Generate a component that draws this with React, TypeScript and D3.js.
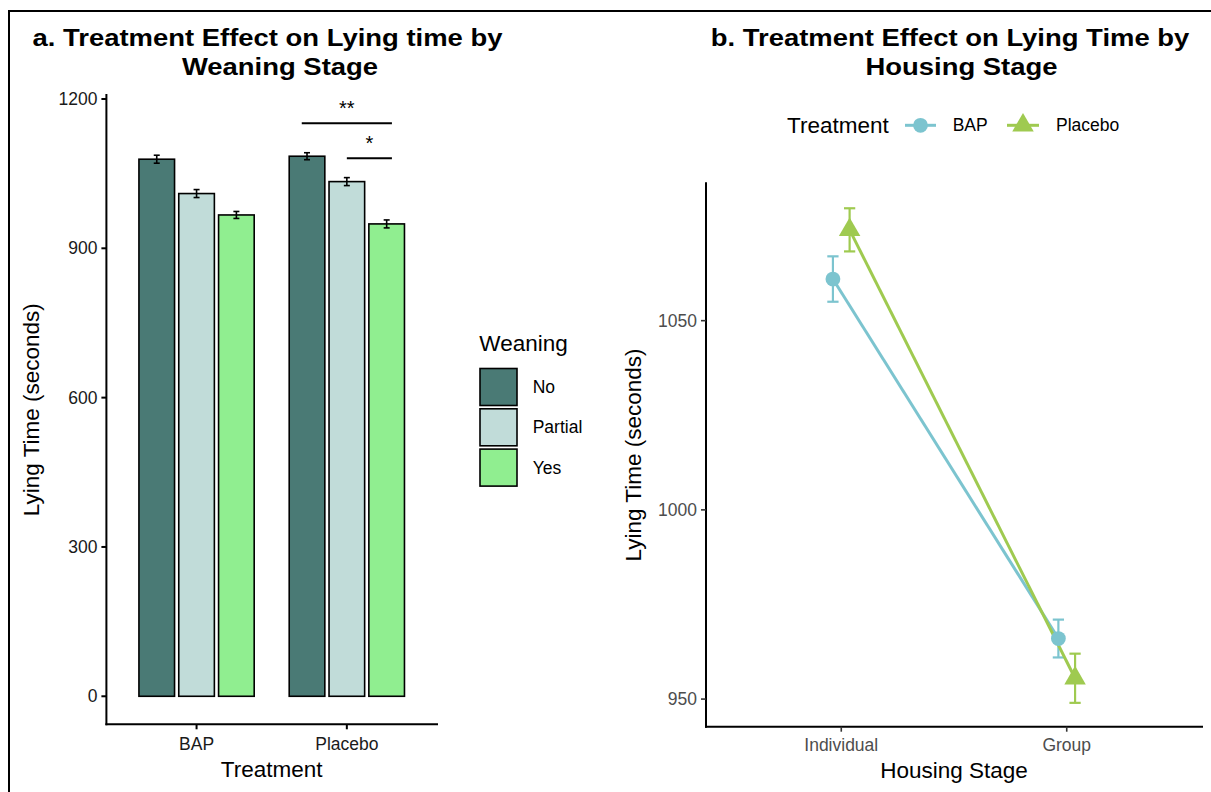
import React from 'react';
import * as d3 from 'd3';

// Panel a: lying time by treatment and weaning stage
const treatments = ['BAP', 'Placebo'];
const weaningLevels = ['No', 'Partial', 'Yes'];
const weaningColors = ['#4a7a75', '#c1dcd9', '#90ee90'];
const lyingBAP = [1079, 1010, 967];
const lyingPlacebo = [1085, 1034, 949];
const seBAP = [8, 8, 7];
const sePlacebo = [7, 8, 8];
const ticksA = [0, 300, 600, 900, 1200];
// significance brackets (x in treatment index units, y in seconds)
const sigLabels = ['**', '*'];
const sigFrom = [1.7, 2.0];
const sigTo = [2.3, 2.3];
const sigY = [1151, 1081];

// Panel b: lying time by housing stage and treatment
const housingStages = ['Individual', 'Group'];
const lineTreatments = ['BAP', 'Placebo'];
const lineColors = ['#7cc4cf', '#9fca50'];
const housingBAP = [1061, 966];
const housingPlacebo = [1074, 955.5];
const housingSEBAP = [6, 5];
const housingSEPlacebo = [5.7, 6.5];
const ticksB = [950, 1000, 1050];

const FONT = '"Liberation Sans", Arial, Helvetica, sans-serif';

function Triangle({ x, y, size, fill }: { x: number; y: number; size: number; fill: string }) {
  const p = d3.symbol().type(d3.symbolTriangle).size(size)();
  return <path d={p || ''} transform={`translate(${x},${y})`} fill={fill} />;
}

// bold two-line plot title, slightly widened
function Title({ x, y, text }: { x: number; y: number; text: string }) {
  return (
    <text
      transform={`translate(${x},${y}) scale(1.12,1)`}
      textAnchor="middle"
      fontSize={24.5}
      fontWeight="bold"
      fill="#000"
    >
      {text}
    </text>
  );
}

export default function App() {
  // ---------- panel a scales ----------
  const xA = d3.scaleLinear().domain([0.4, 2.6]).range([106.4, 437]);
  const yA = d3.scaleLinear().domain([-56.3, 1208]).range([724.3, 95]);
  const pitch = 0.265;
  const barW = 0.237;
  const groupValues = [lyingBAP, lyingPlacebo];
  const groupSE = [seBAP, sePlacebo];

  // ---------- panel b scales ----------
  const xB = d3.scaleLinear().domain([0.4, 2.6]).range([706, 1202]);
  const yB = d3.scaleLinear().domain([942.7, 1086.3]).range([726.7, 183.3]);
  const dodge = 0.037;
  const seriesVals = [housingBAP, housingPlacebo];
  const seriesSE = [housingSEBAP, housingSEPlacebo];
  const lineGen = d3
    .line<[number, number]>()
    .x((d) => d[0])
    .y((d) => d[1]);

  const tickColA = '#1a1a1a';
  const tickColB = '#4d4d4d';

  return (
    <svg
      width={1211}
      height={792}
      style={{ position: 'fixed', left: 0, top: 0, background: '#fff' }}
      fontFamily={FONT}
    >
      <rect x={0} y={0} width={1211} height={792} fill="#fff" />
      {/* outer frame */}
      <path d="M9,792 V11 H1211" fill="none" stroke="#000" strokeWidth={2} />

      {/* ================= panel a ================= */}
      <Title x={267.5} y={46} text="a. Treatment Effect on Lying time by" />
      <Title x={280} y={74.5} text="Weaning Stage" />

      {/* bars */}
      {treatments.map((t, ti) =>
        weaningLevels.map((w, wi) => {
          const cx = ti + 1 + (wi - 1) * pitch;
          const v = groupValues[ti][wi];
          const x0 = xA(cx - barW / 2);
          const x1 = xA(cx + barW / 2);
          return (
            <rect
              key={`bar-${t}-${w}`}
              x={x0}
              y={yA(v)}
              width={x1 - x0}
              height={yA(0) - yA(v)}
              fill={weaningColors[wi]}
              stroke="#000"
              strokeWidth={1.6}
            />
          );
        })
      )}
      {/* error bars */}
      {treatments.map((t, ti) =>
        weaningLevels.map((w, wi) => {
          const cx = xA(ti + 1 + (wi - 1) * pitch);
          const v = groupValues[ti][wi];
          const se = groupSE[ti][wi];
          return (
            <g key={`eb-${t}-${w}`} stroke="#000" strokeWidth={1.6}>
              <line x1={cx} x2={cx} y1={yA(v + se)} y2={yA(v - se)} />
              <line x1={cx - 3} x2={cx + 3} y1={yA(v + se)} y2={yA(v + se)} />
              <line x1={cx - 3} x2={cx + 3} y1={yA(v - se)} y2={yA(v - se)} />
            </g>
          );
        })
      )}
      {/* significance brackets */}
      {sigLabels.map((lab, i) => (
        <g key={`sig-${i}`}>
          <line x1={xA(sigFrom[i])} x2={xA(sigTo[i])} y1={yA(sigY[i])} y2={yA(sigY[i])} stroke="#000" strokeWidth={2} />
          <text
            x={xA((sigFrom[i] + sigTo[i]) / 2)}
            y={yA(sigY[i]) - 8.5}
            textAnchor="middle"
            fontSize={20}
            fill="#000"
          >
            {lab}
          </text>
        </g>
      ))}

      {/* axes a */}
      <line x1={xA(0.4)} x2={xA(0.4)} y1={yA(1208)} y2={yA(-56.3)} stroke="#000" strokeWidth={2} strokeLinecap="square" />
      <line x1={xA(0.4)} x2={xA(2.6)} y1={yA(-56.3)} y2={yA(-56.3)} stroke="#000" strokeWidth={2} strokeLinecap="square" />
      {ticksA.map((t) => (
        <g key={`ta-${t}`}>
          <line x1={xA(0.4) - 5} x2={xA(0.4)} y1={yA(t)} y2={yA(t)} stroke="#000" strokeWidth={2} />
          <text x={xA(0.4) - 9} y={yA(t)} dy="0.35em" textAnchor="end" fontSize={17.5} fill={tickColA}>
            {t}
          </text>
        </g>
      ))}
      {treatments.map((t, ti) => (
        <g key={`xa-${t}`}>
          <line x1={xA(ti + 1)} x2={xA(ti + 1)} y1={yA(-56.3)} y2={yA(-56.3) + 5} stroke="#000" strokeWidth={2} />
          <text x={xA(ti + 1)} y={750} textAnchor="middle" fontSize={17.5} fill={tickColA}>
            {t}
          </text>
        </g>
      ))}
      <text x={(xA(0.4) + xA(2.6)) / 2} y={777} textAnchor="middle" fontSize={22.5} fill="#000">
        Treatment
      </text>
      <text
        transform={`translate(39,${(yA(1208) + yA(-56.3)) / 2}) rotate(-90)`}
        textAnchor="middle"
        fontSize={22.5}
        fill="#000"
      >
        Lying Time (seconds)
      </text>

      {/* legend a */}
      <text x={479.3} y={351} fontSize={22.5} fill="#000">
        Weaning
      </text>
      {weaningLevels.map((w, wi) => (
        <g key={`lg-${w}`}>
          <rect x={480} y={368.5 + wi * 40.3} width={37} height={37} fill={weaningColors[wi]} stroke="#000" strokeWidth={1.6} />
          <text x={532.7} y={387 + wi * 40.3} dy="0.35em" fontSize={17.5} fill="#000">
            {w}
          </text>
        </g>
      ))}

      {/* ================= panel b ================= */}
      <Title x={950} y={46} text="b. Treatment Effect on Lying Time by" />
      <Title x={961.5} y={74.5} text="Housing Stage" />

      {/* legend b */}
      <text x={787} y={125.3} dy="0.35em" fontSize={22.5} fill="#000">
        Treatment
      </text>
      <line x1={905} x2={936} y1={125.3} y2={125.3} stroke={lineColors[0]} strokeWidth={3} />
      <circle cx={920.5} cy={125.3} r={7.4} fill={lineColors[0]} />
      <text x={952.7} y={125.3} dy="0.35em" fontSize={17.5} fill="#000">
        {lineTreatments[0]}
      </text>
      <line x1={1007} x2={1039} y1={125.3} y2={125.3} stroke={lineColors[1]} strokeWidth={3} />
      <Triangle x={1023} y={125.3} size={200} fill={lineColors[1]} />
      <text x={1056} y={125.3} dy="0.35em" fontSize={17.5} fill="#000">
        {lineTreatments[1]}
      </text>

      {/* error bars b */}
      {lineTreatments.map((s, si) =>
        housingStages.map((h, hi) => {
          const cx = xB(hi + 1 + (si === 0 ? -dodge : dodge));
          const v = seriesVals[si][hi];
          const se = seriesSE[si][hi];
          const hw = xB(1.025) - xB(1);
          return (
            <g key={`ebb-${s}-${h}`} stroke={lineColors[si]} strokeWidth={2.2}>
              <line x1={cx} x2={cx} y1={yB(v + se)} y2={yB(v - se)} />
              <line x1={cx - hw} x2={cx + hw} y1={yB(v + se)} y2={yB(v + se)} />
              <line x1={cx - hw} x2={cx + hw} y1={yB(v - se)} y2={yB(v - se)} />
            </g>
          );
        })
      )}
      {/* lines b */}
      {lineTreatments.map((s, si) => {
        const pts: [number, number][] = housingStages.map((h, hi) => [
          xB(hi + 1 + (si === 0 ? -dodge : dodge)),
          yB(seriesVals[si][hi]),
        ]);
        return <path key={`ln-${s}`} d={lineGen(pts) || ''} fill="none" stroke={lineColors[si]} strokeWidth={3} />;
      })}
      {/* points b */}
      {housingStages.map((h, hi) => (
        <circle key={`pt-bap-${h}`} cx={xB(hi + 1 - dodge)} cy={yB(housingBAP[hi])} r={7.4} fill={lineColors[0]} />
      ))}
      {housingStages.map((h, hi) => (
        <Triangle key={`pt-pl-${h}`} x={xB(hi + 1 + dodge)} y={yB(housingPlacebo[hi])} size={200} fill={lineColors[1]} />
      ))}

      {/* axes b */}
      <line x1={xB(0.4)} x2={xB(0.4)} y1={yB(1086.3)} y2={yB(942.7)} stroke="#000" strokeWidth={2} strokeLinecap="square" />
      <line x1={xB(0.4)} x2={xB(2.6)} y1={yB(942.7)} y2={yB(942.7)} stroke="#000" strokeWidth={2} strokeLinecap="square" />
      {ticksB.map((t) => (
        <g key={`tb-${t}`}>
          <line x1={xB(0.4) - 5} x2={xB(0.4)} y1={yB(t)} y2={yB(t)} stroke="#333" strokeWidth={1.6} />
          <text x={xB(0.4) - 9} y={yB(t)} dy="0.35em" textAnchor="end" fontSize={17.5} fill={tickColB}>
            {t}
          </text>
        </g>
      ))}
      {housingStages.map((h, hi) => (
        <g key={`xb-${h}`}>
          <line x1={xB(hi + 1)} x2={xB(hi + 1)} y1={yB(942.7)} y2={yB(942.7) + 5} stroke="#333" strokeWidth={1.6} />
          <text x={xB(hi + 1)} y={751} textAnchor="middle" fontSize={17.5} fill={tickColB}>
            {h}
          </text>
        </g>
      ))}
      <text x={(xB(0.4) + xB(2.6)) / 2} y={778} textAnchor="middle" fontSize={22.5} fill="#000">
        Housing Stage
      </text>
      <text
        transform={`translate(641,${(yB(1086.3) + yB(942.7)) / 2}) rotate(-90)`}
        textAnchor="middle"
        fontSize={22.5}
        fill="#000"
      >
        Lying Time (seconds)
      </text>
    </svg>
  );
}
